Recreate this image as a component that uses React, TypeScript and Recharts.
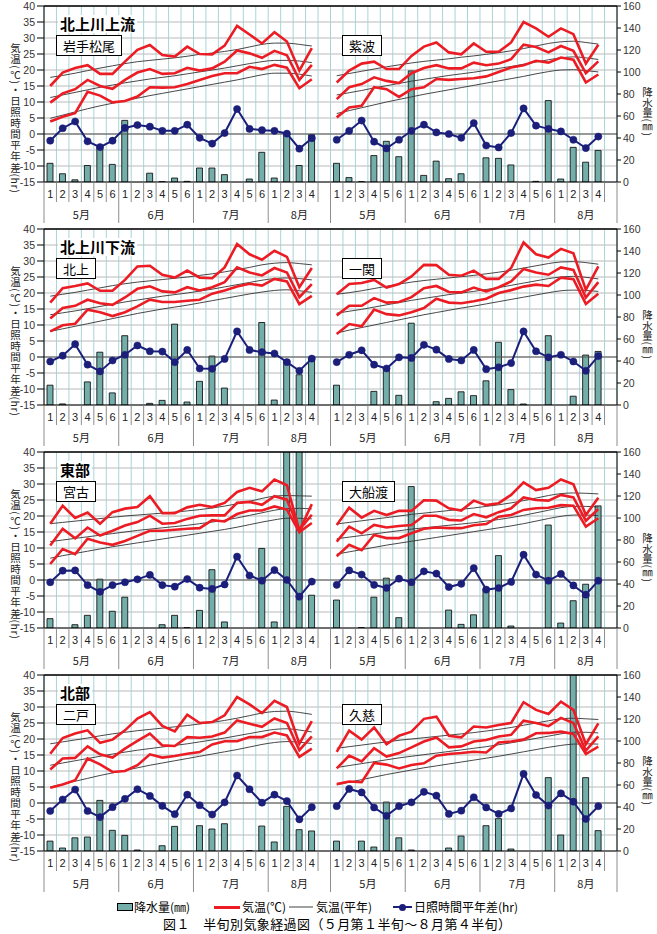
import React from "react";
import {
    ComposedChart,
    Bar,
    Line,
    XAxis,
    YAxis,
    CartesianGrid,
    ReferenceLine,
} from "recharts";

// axis labels
const DEKADS = ["1", "2", "3", "4", "5", "6", "1", "2", "3", "4", "5", "6", "1", "2", "3", "4", "5", "6", "1", "2", "3", "4"];
const MONTHS = ["5月", "6月", "7月", "8月"];
const MONTH_FIRST = [0, 6, 12, 18];
const MONTH_LAST = [5, 11, 17, 22]; // 8月 also covers the empty slot
const LEFT_TICKS = [-15, -10, -5, 0, 5, 10, 15, 20, 25, 30, 35, 40];
const RIGHT_TICKS = [0, 20, 40, 60, 80, 100, 120, 140, 160];

const REGIONS = ["北上川上流", "北上川下流", "東部", "北部"];
const STATION_NAMES = [["岩手松尾", "紫波"], ["北上", "一関"], ["宮古", "大船渡"], ["二戸", "久慈"]];

// 岩手松尾
const matsuoMax = [15, 19.2, 20.6, 21.5, 18.8, 18.8, 22.6, 26.3, 27.8, 24.7, 24.2, 27.3, 25, 24.9, 27.6, 33.8, 31.1, 28.3, 31.8, 28.9, 19.8, 26.8];
const matsuoMean = [9.8, 12.7, 14, 16.9, 15, 14.1, 16.9, 19.2, 20.3, 18.8, 19, 20.7, 19.8, 20.5, 22.6, 26.1, 25.2, 23.8, 26, 24.6, 16.9, 21.6];
const matsuoMin = [3.9, 5.4, 6.5, 13.2, 12, 9.9, 10.3, 11.7, 14.6, 14.5, 14.6, 15.6, 16.9, 18.1, 19, 19, 21, 20.3, 21.6, 20.7, 14.3, 17.1];
const matsuoNormMax = [17.7, 18.3, 19, 19.8, 20.6, 21.3, 22, 22.6, 23, 23.4, 23.8, 24.3, 24.9, 25.3, 25.8, 26.4, 27.2, 28, 28.4, 28.4, 28, 27.5];
const matsuoNormMean = [11.4, 12.2, 13, 13.8, 14.6, 15.3, 16, 16.6, 17.2, 17.7, 18.2, 18.8, 19.4, 20, 20.6, 21.3, 22, 22.6, 23, 23, 22.8, 22.3];
const matsuoNormMin = [4.9, 5.9, 6.9, 7.9, 8.8, 9.6, 10.4, 11.2, 12, 12.7, 13.4, 14.1, 14.8, 15.5, 16.2, 16.9, 17.7, 18.5, 19, 19, 18.7, 18.1];
const matsuoSun = [-2.1, 1.8, 3.9, -2.3, -4.1, -2.1, 1.9, 2.8, 2.3, 1, 1, 2.9, -1.2, -3, 0.3, 7.8, 1.6, 1.2, 1, 0.1, -4.6, -1.3];
const matsuoRain = [17, 7.5, 2, 15, 32, 16, 56, 0, 8, 0.3, 3.6, 0.6, 12.7, 12.7, 6.7, 0, 2.7, 27, 3.6, 44, 15, 43];

// 紫波
const shiwaMax = [16.1, 19.8, 22, 22.6, 20.3, 20.3, 24.4, 27.3, 28.6, 25.5, 24.9, 28.3, 25.7, 25.7, 28.6, 35, 33, 30.4, 33, 31.2, 22, 27.9];
const shiwaMean = [10.9, 14.6, 15.6, 17.7, 16.6, 15.9, 19, 20.6, 21.5, 20.5, 20.5, 22.3, 21.5, 22, 23.4, 27.9, 27.2, 25.5, 27.5, 26, 19, 22.7];
const shiwaMin = [5.2, 8.3, 8.8, 14.6, 14, 11.6, 14, 14.6, 17.2, 16.9, 17.2, 17.4, 18, 19.4, 20.8, 21.5, 22.9, 22.3, 23.9, 23.2, 16.1, 18.6];
const shiwaNormMax = [18.2, 18.9, 19.6, 20.3, 21, 21.6, 22.2, 22.7, 23.1, 23.5, 24, 24.4, 24.9, 25.4, 26, 26.7, 27.5, 28.3, 28.8, 29, 28.6, 28.1];
const shiwaNormMean = [12.2, 12.9, 13.6, 14.4, 15.1, 15.8, 16.5, 17.1, 17.7, 18.3, 18.8, 19.3, 19.9, 20.5, 21.1, 21.8, 22.5, 23.2, 23.8, 24.1, 23.8, 23.3];
const shiwaNormMin = [6.4, 7.3, 8.2, 9.1, 10, 10.8, 11.6, 12.4, 13.1, 13.8, 14.5, 15.2, 15.9, 16.6, 17.3, 18, 18.8, 19.5, 20, 20.1, 19.8, 19.4];
const shiwaSun = [-1.8, 1, 4.2, -2.4, -4.5, -1.8, 1, 2.9, 0.5, 0, -1.2, 3.4, -3.6, -4.2, 0.3, 8, 2.6, 1.6, 0.8, -1.8, -4.4, -0.8];
const shiwaRain = [17, 4, 0.3, 24, 37, 23, 101, 6, 19, 3, 7.5, 0, 22, 21.5, 15.5, 0, 0.6, 74, 2.7, 31.5, 18, 28.7];

// 北上
const kitakamiMax = [17, 21.5, 22.2, 23, 20.7, 20.7, 24.1, 28.3, 28.5, 25.7, 24.8, 27, 24.8, 24.6, 28, 35.3, 32.1, 30.4, 33.2, 31.3, 21.8, 27.8];
const kitakamiMean = [12, 15.3, 16, 17.9, 16.8, 16.3, 18.6, 21.3, 22.1, 20.5, 20.2, 21.8, 20.8, 21.8, 23.4, 28, 26.4, 25.5, 27.8, 26.4, 18.7, 22.8];
const kitakamiMin = [8, 9.9, 10.4, 14.8, 14, 12.8, 14, 15.8, 17.9, 17.2, 17.2, 17.6, 17.9, 19.8, 20.8, 22, 22.9, 22.3, 24.4, 23.6, 16.5, 19.1];
const kitakamiNormMax = [19, 19.6, 20.2, 20.9, 21.6, 22.3, 22.9, 23.4, 23.8, 24.2, 24.6, 25, 25.5, 26, 26.6, 27.3, 28, 28.8, 29.3, 29.5, 29.2, 28.8];
const kitakamiNormMean = [13.2, 13.8, 14.4, 15.1, 15.8, 16.5, 17.2, 17.8, 18.4, 19, 19.5, 20, 20.6, 21.2, 21.9, 22.6, 23.3, 24, 24.5, 24.7, 24.5, 24.1];
const kitakamiNormMin = [8, 8.8, 9.6, 10.4, 11.2, 12, 12.8, 13.6, 14.3, 15, 15.6, 16.2, 16.9, 17.6, 18.3, 19, 19.7, 20.3, 20.8, 21, 20.7, 20.2];
const kitakamiSun = [-1.4, 0.4, 4, -2.4, -4.5, -1.1, 0.7, 3.6, 1.8, 1.7, -1.6, 2.2, -3.6, -3.7, -0.6, 8, 2.2, 1.5, 1.1, -1.6, -4.3, -0.5];
const kitakamiRain = [18, 1, 0, 21, 48, 11, 63, 0, 1.5, 4.2, 73.5, 2.7, 21.5, 44.5, 15.4, 0, 0, 75, 4.5, 41, 27.5, 42.6];

// 一関
const ichinosekiMax = [19.6, 22.8, 23.1, 24.1, 21.7, 22.8, 25.2, 28.8, 28.7, 25.7, 25.4, 27, 24.4, 24.4, 27.8, 35.8, 32.1, 31.1, 33.8, 32.4, 21, 28.3];
const ichinosekiMean = [13, 16, 16, 18.4, 17, 17.2, 18.7, 21.5, 22.2, 20.3, 20.2, 21.7, 20.5, 21.8, 23.6, 27.5, 26.4, 25.7, 28, 27.2, 18.6, 23.4];
const ichinosekiMin = [7.2, 10.3, 9.6, 14.8, 13.4, 13, 14, 15.3, 18.2, 17, 16.8, 17.4, 18.2, 20, 20.9, 22, 22.6, 22.2, 24.8, 24.3, 16.6, 19.8];
const ichinosekiNormMax = [19.6, 20.1, 20.7, 21.4, 22.1, 22.8, 23.4, 23.9, 24.3, 24.7, 25.1, 25.5, 26, 26.5, 27.1, 27.8, 28.5, 29.2, 29.7, 29.8, 29.5, 29];
const ichinosekiNormMean = [13.7, 14.3, 14.9, 15.6, 16.3, 17, 17.7, 18.3, 18.9, 19.5, 20, 20.5, 21.1, 21.7, 22.4, 23.1, 23.8, 24.5, 25, 25.2, 24.9, 24.4];
const ichinosekiNormMin = [7.5, 8.4, 9.2, 10, 10.8, 11.6, 12.4, 13.2, 13.9, 14.6, 15.3, 15.9, 16.6, 17.3, 18, 18.7, 19.4, 20.1, 20.7, 20.9, 20.8, 20.5];
const ichinosekiSun = [-1.6, 0.7, 2.1, -2.4, -3.6, -0.1, -0.3, 3.8, 2.3, -0.6, -1.1, 2.2, -3.8, -3.2, -1.9, 8, 1.8, -0.1, 0.7, -1.4, -4.3, 0.3];
const ichinosekiRain = [18, 0, 0, 12.4, 33.6, 8.8, 74.4, 0, 3, 6, 12, 8.5, 22, 57, 14, 0.9, 0, 63, 0, 8, 45.4, 48.7];

// 宮古
const miyakoMax = [17.6, 23.2, 19.4, 21.1, 17.6, 21.2, 22.3, 22.8, 26.2, 20.9, 20.9, 22.7, 23.5, 22.8, 24.1, 27.5, 28.8, 27.7, 31.4, 29.6, 15.4, 23.7];
const miyakoMean = [10.8, 16, 13, 16.4, 13.9, 15.4, 17, 18.1, 20.1, 17.6, 17.8, 19.1, 20.1, 20.2, 20.2, 24.1, 24.4, 23.5, 26.2, 25.1, 15.7, 20.4];
const miyakoMin = [5, 9.7, 8.1, 12.9, 11.7, 11, 12.2, 13.8, 15.4, 15.4, 15.7, 16, 16.2, 18.7, 18.3, 20.6, 21.7, 21.7, 23, 22, 15, 17.8];
const miyakoNormMax = [17.6, 18, 18.4, 18.8, 19.2, 19.6, 20, 20.3, 20.6, 20.9, 21.2, 21.6, 22, 22.5, 23.1, 23.8, 24.6, 25.5, 26.2, 26.4, 26.3, 26.2];
const miyakoNormMean = [12, 12.5, 13, 13.5, 14, 14.5, 15, 15.5, 15.9, 16.3, 16.7, 17.1, 17.6, 18.1, 18.7, 19.4, 20.2, 21, 21.8, 22.3, 22.4, 22.2];
const miyakoNormMin = [6.8, 7.6, 8.3, 9, 9.7, 10.4, 11, 11.6, 12.2, 12.8, 13.4, 14, 14.6, 15.2, 15.8, 16.5, 17.3, 18.1, 18.8, 19.3, 19.3, 19.1];
const miyakoSun = [-0.7, 2.9, 3, -1.6, -3.7, -1.6, -0.7, 0.2, 1.6, -1.6, -2.1, 0.3, -2.4, -2.8, -1.4, 7.3, 1.4, -0.2, 3.1, 0, -5.2, -0.5];
const miyakoRain = [8.5, 0, 3, 11.5, 44.4, 15.2, 28, 0, 0, 3, 11.5, 0.3, 16, 53, 5.5, 0, 0, 72.3, 5.5, 210, 185, 29.8];

// 大船渡
const ofunatoMax = [17.2, 22.6, 19.5, 21.6, 20.3, 21.6, 21.6, 24.9, 24.8, 22.4, 21.7, 24.8, 23.4, 24, 26.6, 30.5, 28.1, 28.8, 31.4, 29.9, 20.3, 25.7];
const ofunatoMean = [12, 16.7, 14.6, 17.2, 16.4, 16.9, 17.2, 20.1, 20.1, 18.8, 18.6, 20.6, 19.6, 21.2, 22.4, 25.8, 25, 24.8, 26.6, 25.8, 18.5, 22.2];
const ofunatoMin = [7.4, 11, 9.3, 14.1, 13.1, 13.1, 14.6, 16, 16.4, 16.2, 16.2, 17.1, 17.5, 19.8, 20.3, 21.9, 22.4, 22.6, 23.4, 23.2, 16.7, 19.3];
const ofunatoNormMax = [17.5, 18, 18.5, 19, 19.5, 20, 20.5, 20.9, 21.3, 21.7, 22.1, 22.5, 23, 23.5, 24.1, 24.8, 25.6, 26.4, 27, 27.2, 27.1, 26.9];
const ofunatoNormMean = [12.9, 13.4, 13.9, 14.4, 14.9, 15.4, 15.9, 16.3, 16.7, 17.1, 17.5, 17.9, 18.4, 18.9, 19.5, 20.2, 21, 21.8, 22.6, 23, 23, 22.8];
const ofunatoNormMin = [8.1, 8.8, 9.5, 10.2, 10.9, 11.5, 12.1, 12.7, 13.3, 13.9, 14.5, 15.1, 15.7, 16.3, 16.9, 17.6, 18.4, 19.2, 19.9, 20.3, 20.3, 20.1];
const ofunatoSun = [-1.5, 3, 1.7, -1.5, -2.5, 0.4, -0.7, 2.7, 2, -2.2, -1.2, 3.7, -3, -2.5, -0.6, 7.9, 1.7, -0.2, 1.9, -1.7, -4.6, -0.2];
const ofunatoRain = [25.4, 0, 0.3, 28, 45.3, 9.4, 128.6, 0, 0, 16.3, 3.3, 12, 35.6, 65.8, 1.8, 0, 0, 93.6, 4.5, 24.8, 39.8, 111];

// 二戸
const ninoheMax = [15.4, 20.3, 21.7, 22.7, 18.8, 19.8, 22.7, 26.4, 28.4, 24.1, 22.4, 27.6, 25, 25.3, 27.4, 33.1, 30.8, 28.1, 31.9, 30, 18.5, 25.6];
const ninoheMean = [10.5, 13.9, 14.1, 17.7, 15.2, 14.2, 17, 19.4, 21.7, 18, 17.8, 20.6, 20.4, 20.8, 22, 25.8, 24.8, 23.8, 26.4, 25, 16.5, 20.8];
const ninoheMin = [4.8, 5.8, 7.1, 13.9, 12.1, 9.7, 10, 11.8, 15.2, 14.2, 14.7, 15.4, 15.9, 18.3, 19.3, 19.3, 20.6, 20.6, 22, 21.1, 14.4, 17];
const ninoheNormMax = [18.5, 19.1, 19.7, 20.3, 21, 21.6, 22.1, 22.6, 23, 23.4, 23.8, 24.2, 24.7, 25.2, 25.8, 26.5, 27.3, 28.1, 28.6, 28.7, 28.3, 27.7];
const ninoheNormMean = [11.8, 12.5, 13.2, 13.9, 14.6, 15.3, 15.9, 16.5, 17, 17.5, 18, 18.5, 19.1, 19.7, 20.3, 21, 21.7, 22.4, 23, 23.2, 22.8, 22.2];
const ninoheNormMin = [5, 5.9, 6.8, 7.7, 8.6, 9.4, 10.2, 11, 11.8, 12.5, 13.2, 13.9, 14.6, 15.3, 16, 16.7, 17.5, 18.3, 18.9, 19.2, 19, 18.6];
const ninoheSun = [-2.5, 1.1, 4.2, -2.5, -4.4, -1.3, 1.3, 4.3, 2.2, -0.9, -3.5, 2.6, -0.7, -3.6, 0.2, 8.6, 4.3, 0.1, 2.6, 0.6, -5.1, -1.3];
const ninoheRain = [9, 2.7, 12, 12.7, 46, 18.8, 14.2, 0.9, 0, 4.8, 22.4, 0, 23, 20, 24.8, 0, 0.3, 22.7, 8.2, 40.6, 19.4, 18.2];

// 久慈
const kujiMax = [16, 22.6, 19.8, 23.6, 18.4, 21, 22.3, 26.3, 27, 21, 20.5, 23.9, 23.6, 24.4, 25, 31.5, 29.1, 27.8, 31.7, 29.1, 18.4, 24.9];
const kujiMean = [10.8, 14.8, 13, 17.1, 14.5, 15.6, 17.4, 19.2, 20.5, 17.4, 17.7, 19.2, 19.7, 20.8, 21.3, 25.7, 25, 24, 26.6, 25, 16.4, 20.8];
const kujiMin = [5.9, 6.7, 6.5, 12.5, 12, 10.8, 11.9, 12.4, 14.8, 15.3, 15.6, 16, 15.8, 18.9, 19.2, 19.8, 21.8, 21.9, 22.3, 21.6, 15.3, 17.6];
const kujiNormMax = [17.1, 17.6, 18.1, 18.6, 19.1, 19.6, 20, 20.4, 20.8, 21.2, 21.6, 22, 22.5, 23, 23.6, 24.3, 25, 25.7, 26.3, 26.5, 26.3, 26.1];
const kujiNormMean = [11.1, 11.7, 12.3, 12.9, 13.5, 14.1, 14.6, 15.1, 15.6, 16.1, 16.6, 17.1, 17.6, 18.2, 18.8, 19.5, 20.2, 20.9, 21.6, 22.1, 22.1, 21.9];
const kujiNormMin = [5.7, 6.5, 7.3, 8.1, 8.9, 9.6, 10.3, 11, 11.6, 12.2, 12.8, 13.4, 14, 14.6, 15.3, 16, 16.7, 17.4, 18, 18.4, 18.5, 18.4];
const kujiSun = [-1, 4.4, 3.3, -1.4, -4, -1, 0.2, 3.5, 2.3, -3.4, -2.4, 1.8, -1.4, -3.4, -1.7, 9.1, 2.5, -0.8, 3, 0.4, -5, -1];
const kujiRain = [9, 0, 9, 3.6, 44.5, 12, 0.9, 0, 0, 2.7, 13.6, 0, 23, 29.4, 1.8, 0, 0, 66.7, 14.5, 200, 66.7, 18.5];

const station = (max, mean, min, nMax, nMean, nMin, sun, rain) => ({ max, mean, min, nMax, nMean, nMin, sun, rain });

const STATIONS = [
    [
        station(matsuoMax, matsuoMean, matsuoMin, matsuoNormMax, matsuoNormMean, matsuoNormMin, matsuoSun, matsuoRain),
        station(shiwaMax, shiwaMean, shiwaMin, shiwaNormMax, shiwaNormMean, shiwaNormMin, shiwaSun, shiwaRain),
    ],
    [
        station(kitakamiMax, kitakamiMean, kitakamiMin, kitakamiNormMax, kitakamiNormMean, kitakamiNormMin, kitakamiSun, kitakamiRain),
        station(ichinosekiMax, ichinosekiMean, ichinosekiMin, ichinosekiNormMax, ichinosekiNormMean, ichinosekiNormMin, ichinosekiSun, ichinosekiRain),
    ],
    [
        station(miyakoMax, miyakoMean, miyakoMin, miyakoNormMax, miyakoNormMean, miyakoNormMin, miyakoSun, miyakoRain),
        station(ofunatoMax, ofunatoMean, ofunatoMin, ofunatoNormMax, ofunatoNormMean, ofunatoNormMin, ofunatoSun, ofunatoRain),
    ],
    [
        station(ninoheMax, ninoheMean, ninoheMin, ninoheNormMax, ninoheNormMean, ninoheNormMin, ninoheSun, ninoheRain),
        station(kujiMax, kujiMean, kujiMin, kujiNormMax, kujiNormMean, kujiNormMin, kujiSun, kujiRain),
    ],
];

// layout
const W = 657;
const ROW_H = 223;
const PLOT_L = 44;
const RIGHT_W = 40;
const PLOT_W = W - PLOT_L - RIGHT_W;
const SLOTS = 23; // 22 half-dekads + one empty slot per station
const BW = PLOT_W / (SLOTS * 2);
const VGRID = Array.from({ length: SLOTS * 2 + 1 }, (_, k) => PLOT_L + k * BW);

const JP = '"Noto Sans CJK JP", "Noto Sans", sans-serif';
const NUM = '"Liberation Sans", Arial, sans-serif';
const RED = "#ec1c24";
const NAVY = "#1b1f7a";
const TEAL = "#74aeaa";
const SEP = "#808080";

function buildRows(pair) {
    const rows = [];
    pair.forEach((s, p) => {
        for (let j = 0; j < SLOTS; j++) {
            const k = p * SLOTS + j;
            if (j >= DEKADS.length) {
                rows.push({ k, max: null, mean: null, min: null, nMax: null, nMean: null, nMin: null, sun: null, rain: null });
            } else {
                rows.push({
                    k,
                    max: s.max[j],
                    mean: s.mean[j],
                    min: s.min[j],
                    nMax: s.nMax[j],
                    nMean: s.nMean[j],
                    nMin: s.nMin[j],
                    sun: s.sun[j],
                    rain: s.rain[j],
                });
            }
        }
    });
    return rows;
}

function DekadTick(props: any) {
    const { x, y, payload } = props;
    const i = payload.value;
    const j = i % SLOTS;
    const left = x - BW / 2;
    const m = MONTH_FIRST.indexOf(j);
    return (
        <g>
            <line x1={left} x2={left} y1={y} y2={y + (m >= 0 ? 41 : 20)} stroke={SEP} strokeWidth={0.9} />
            {i === SLOTS * 2 - 1 && (
                <line x1={x + BW / 2} x2={x + BW / 2} y1={y} y2={y + 41} stroke={SEP} strokeWidth={0.9} />
            )}
            {j < DEKADS.length && (
                <text x={x} y={y + 16} textAnchor="middle" fontSize={11} fontFamily={NUM} fill="#222">
                    {DEKADS[j]}
                </text>
            )}
            {m >= 0 && (
                <text
                    x={left + ((MONTH_LAST[m] - MONTH_FIRST[m] + 1) * BW) / 2}
                    y={y + 37}
                    textAnchor="middle"
                    fontSize={11}
                    fontFamily={JP}
                    fill="#222"
                >
                    {MONTHS[m]}
                </text>
            )}
        </g>
    );
}

function RowChart({ r }) {
    const rows = buildRows(STATIONS[r]);
    const top = r * ROW_H;
    return (
        <div style={{ position: "absolute", left: 0, top, width: W, height: ROW_H }}>
            <ComposedChart width={W} height={ROW_H} data={rows} margin={{ top: 6, right: 0, bottom: 0, left: 0 }}>
                <CartesianGrid yAxisId="L" vertical={false} stroke="#a8a8a8" strokeWidth={0.8} />
                <CartesianGrid yAxisId="L" horizontal={false} verticalPoints={VGRID} stroke="#9fcfd3" strokeWidth={0.9} />
                <XAxis
                    dataKey="k"
                    interval={0}
                    height={41}
                    tickLine={false}
                    tickSize={0}
                    tickMargin={0}
                    axisLine={{ stroke: "#000" }}
                    tick={(p) => <DekadTick {...p} />}
                />
                <YAxis
                    yAxisId="L"
                    orientation="left"
                    width={PLOT_L}
                    domain={[-15, 40]}
                    ticks={LEFT_TICKS}
                    interval={0}
                    allowDataOverflow
                    tickSize={7}
                    tickMargin={2}
                    axisLine={{ stroke: "#000" }}
                    tickLine={{ stroke: "#000" }}
                    tick={{ fontSize: 10.5, fill: "#333", fontFamily: NUM }}
                />
                <YAxis
                    yAxisId="R"
                    orientation="right"
                    width={RIGHT_W}
                    domain={[0, 160]}
                    ticks={RIGHT_TICKS}
                    interval={0}
                    allowDataOverflow
                    tickSize={4}
                    tickMargin={2}
                    axisLine={{ stroke: "#000" }}
                    tickLine={{ stroke: "#000" }}
                    tick={{ fontSize: 10.5, fill: "#333", fontFamily: NUM }}
                />
                <ReferenceLine yAxisId="L" y={0} stroke="#555" strokeWidth={1} />
                <ReferenceLine yAxisId="L" y={40} stroke="#000" strokeWidth={1.5} />
                <Bar yAxisId="R" dataKey="rain" fill={TEAL} stroke="#000" strokeWidth={0.8} barSize={6} isAnimationActive={false} />
                <Line yAxisId="L" type="monotone" dataKey="nMax" stroke="#333" strokeWidth={0.9} dot={false} activeDot={false} isAnimationActive={false} />
                <Line yAxisId="L" type="monotone" dataKey="nMean" stroke="#333" strokeWidth={0.9} dot={false} activeDot={false} isAnimationActive={false} />
                <Line yAxisId="L" type="monotone" dataKey="nMin" stroke="#333" strokeWidth={0.9} dot={false} activeDot={false} isAnimationActive={false} />
                <Line yAxisId="L" type="linear" dataKey="max" stroke={RED} strokeWidth={2.6} dot={false} activeDot={false} isAnimationActive={false} />
                <Line yAxisId="L" type="linear" dataKey="mean" stroke={RED} strokeWidth={2.6} dot={false} activeDot={false} isAnimationActive={false} />
                <Line yAxisId="L" type="linear" dataKey="min" stroke={RED} strokeWidth={2.6} dot={false} activeDot={false} isAnimationActive={false} />
                <Line
                    yAxisId="L"
                    type="linear"
                    dataKey="sun"
                    stroke={NAVY}
                    strokeWidth={2}
                    dot={{ r: 3.6, fill: NAVY, stroke: NAVY, strokeWidth: 0.5 }}
                    activeDot={false}
                    isAnimationActive={false}
                />
            </ComposedChart>

            <div
                style={{
                    position: "absolute", left: 58, top: 15, padding: "0 2px", background: "#fff",
                    fontFamily: JP, fontWeight: 700, fontSize: 15, lineHeight: "18px", color: "#000",
                }}
            >
                {REGIONS[r]}
            </div>
            {STATION_NAMES[r].map((name, p) => (
                <div
                    key={name}
                    style={{
                        position: "absolute", left: p === 0 ? 56 : 342, top: 35, height: 19, padding: "0 6px",
                        border: "1px solid #000", background: "#fff", fontFamily: JP, fontSize: 13,
                        lineHeight: "19px", color: "#000", whiteSpace: "nowrap",
                    }}
                >
                    {name}
                </div>
            ))}
            <div
                style={{
                    position: "absolute", left: 8, top: 43, writingMode: "vertical-rl", textOrientation: "mixed",
                    fontFamily: JP, fontSize: 10.5, letterSpacing: 0.6, lineHeight: "14px", color: "#222", whiteSpace: "nowrap",
                }}
            >
                気温(℃)・日照時間平年差(hr)
            </div>
            <div
                style={{
                    position: "absolute", left: 640, top: 87, writingMode: "vertical-rl", textOrientation: "mixed",
                    fontFamily: JP, fontSize: 10.5, lineHeight: "14px", color: "#222", whiteSpace: "nowrap",
                }}
            >
                降水量(㎜)
            </div>
        </div>
    );
}

function LegendRow() {
    const text = { position: "absolute" as const, top: 900, fontFamily: JP, fontSize: 12, lineHeight: "14px", color: "#000", whiteSpace: "nowrap" as const };
    return (
        <>
            <div style={{ position: "absolute", left: 117, top: 903, width: 14, height: 6, background: TEAL, border: "1px solid #000" }} />
            <div style={{ ...text, left: 134 }}>降水量(㎜)</div>
            <div style={{ position: "absolute", left: 214, top: 906, width: 26, height: 2.5, background: RED }} />
            <div style={{ ...text, left: 242 }}>気温(℃)</div>
            <div style={{ position: "absolute", left: 289, top: 906, width: 24, height: 2, background: "#a0a0a0" }} />
            <div style={{ ...text, left: 316 }}>気温(平年)</div>
            <div style={{ position: "absolute", left: 393, top: 906, width: 19, height: 2, background: NAVY }} />
            <div style={{ position: "absolute", left: 399, top: 903.5, width: 7, height: 7, borderRadius: 4, background: NAVY }} />
            <div style={{ ...text, left: 414 }}>日照時間平年差(hr)</div>
        </>
    );
}

export default function App() {
    return (
        <div style={{ position: "absolute", left: 0, top: 0, width: W, height: 934, background: "#fff", overflow: "hidden" }}>
            {REGIONS.map((_, r) => (
                <RowChart key={r} r={r} />
            ))}
            <LegendRow />
            <div
                style={{
                    position: "absolute", left: 163, top: 916, fontFamily: JP, fontSize: 13,
                    letterSpacing: 0.4, lineHeight: "15px", color: "#000", whiteSpace: "nowrap",
                }}
            >
                図１　半旬別気象経過図（５月第１半旬～８月第４半旬）
            </div>
        </div>
    );
}
